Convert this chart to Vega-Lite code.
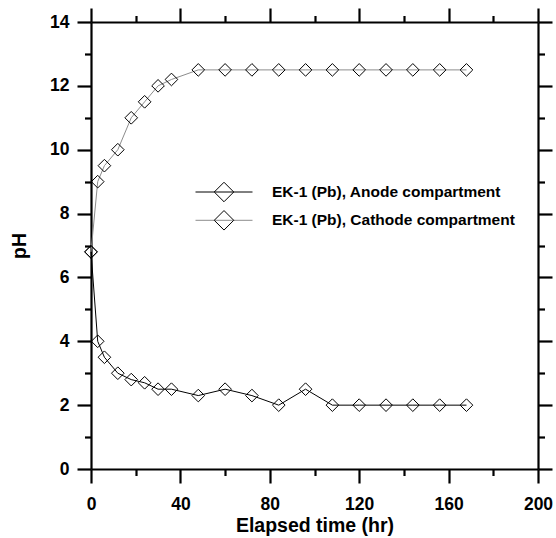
{
  "$schema": "https://vega.github.io/schema/vega-lite/v6.json",
  "width": 447,
  "height": 447,
  "autosize": {"type": "none"},
  "padding": {"left": 91, "top": 22, "right": 18, "bottom": 69},
  "config": {
    "font": "Liberation Sans",
    "view": {"stroke": null},
    "axis": {
      "grid": false,
      "domainColor": "black",
      "domainWidth": 2.2,
      "tickColor": "black",
      "tickWidth": 2.2,
      "labelColor": "black",
      "labelFont": "Liberation Sans",
      "labelFontWeight": "bold",
      "labelFontSize": 17.5,
      "labelFlush": false,
      "labelOverlap": false,
      "titleColor": "black",
      "titleFont": "Liberation Sans",
      "titleFontWeight": "bold",
      "titleFontSize": 19.5
    },
    "legend": {
      "padding": 0,
      "labelFont": "Liberation Sans",
      "labelFontWeight": "bold",
      "labelFontSize": 15.5,
      "labelColor": "black",
      "labelLimit": 0
    }
  },
  "data": {
    "values": [
      {"t": 0, "pH": 6.8, "series": "EK-1 (Pb), Anode compartment"},
      {"t": 3, "pH": 4.0, "series": "EK-1 (Pb), Anode compartment"},
      {"t": 6, "pH": 3.5, "series": "EK-1 (Pb), Anode compartment"},
      {"t": 12, "pH": 3.0, "series": "EK-1 (Pb), Anode compartment"},
      {"t": 18, "pH": 2.8, "series": "EK-1 (Pb), Anode compartment"},
      {"t": 24, "pH": 2.7, "series": "EK-1 (Pb), Anode compartment"},
      {"t": 30, "pH": 2.5, "series": "EK-1 (Pb), Anode compartment"},
      {"t": 36, "pH": 2.5, "series": "EK-1 (Pb), Anode compartment"},
      {"t": 48, "pH": 2.3, "series": "EK-1 (Pb), Anode compartment"},
      {"t": 60, "pH": 2.5, "series": "EK-1 (Pb), Anode compartment"},
      {"t": 72, "pH": 2.3, "series": "EK-1 (Pb), Anode compartment"},
      {"t": 84, "pH": 2.0, "series": "EK-1 (Pb), Anode compartment"},
      {"t": 96, "pH": 2.5, "series": "EK-1 (Pb), Anode compartment"},
      {"t": 108, "pH": 2.0, "series": "EK-1 (Pb), Anode compartment"},
      {"t": 120, "pH": 2.0, "series": "EK-1 (Pb), Anode compartment"},
      {"t": 132, "pH": 2.0, "series": "EK-1 (Pb), Anode compartment"},
      {"t": 144, "pH": 2.0, "series": "EK-1 (Pb), Anode compartment"},
      {"t": 156, "pH": 2.0, "series": "EK-1 (Pb), Anode compartment"},
      {"t": 168, "pH": 2.0, "series": "EK-1 (Pb), Anode compartment"},
      {"t": 0, "pH": 6.8, "series": "EK-1 (Pb), Cathode compartment"},
      {"t": 3, "pH": 9.0, "series": "EK-1 (Pb), Cathode compartment"},
      {"t": 6, "pH": 9.5, "series": "EK-1 (Pb), Cathode compartment"},
      {"t": 12, "pH": 10.0, "series": "EK-1 (Pb), Cathode compartment"},
      {"t": 18, "pH": 11.0, "series": "EK-1 (Pb), Cathode compartment"},
      {"t": 24, "pH": 11.5, "series": "EK-1 (Pb), Cathode compartment"},
      {"t": 30, "pH": 12.0, "series": "EK-1 (Pb), Cathode compartment"},
      {"t": 36, "pH": 12.2, "series": "EK-1 (Pb), Cathode compartment"},
      {"t": 48, "pH": 12.5, "series": "EK-1 (Pb), Cathode compartment"},
      {"t": 60, "pH": 12.5, "series": "EK-1 (Pb), Cathode compartment"},
      {"t": 72, "pH": 12.5, "series": "EK-1 (Pb), Cathode compartment"},
      {"t": 84, "pH": 12.5, "series": "EK-1 (Pb), Cathode compartment"},
      {"t": 96, "pH": 12.5, "series": "EK-1 (Pb), Cathode compartment"},
      {"t": 108, "pH": 12.5, "series": "EK-1 (Pb), Cathode compartment"},
      {"t": 120, "pH": 12.5, "series": "EK-1 (Pb), Cathode compartment"},
      {"t": 132, "pH": 12.5, "series": "EK-1 (Pb), Cathode compartment"},
      {"t": 144, "pH": 12.5, "series": "EK-1 (Pb), Cathode compartment"},
      {"t": 156, "pH": 12.5, "series": "EK-1 (Pb), Cathode compartment"},
      {"t": 168, "pH": 12.5, "series": "EK-1 (Pb), Cathode compartment"}
    ]
  },
  "layer": [
    {
      "mark": {"type": "line", "strokeWidth": 1},
      "encoding": {
        "x": {
          "field": "t", "type": "quantitative",
          "scale": {"domain": [0, 200], "nice": false},
          "axis": {
            "orient": "bottom",
            "values": [0, 20, 40, 60, 80, 100, 120, 140, 160, 180, 200],
            "labelExpr": "datum.value % 40 === 0 ? datum.label : ''",
            "tickSize": {"condition": {"test": "datum.value % 40 === 0", "value": 14}, "value": 6.5},
            "labelPadding": 12.5,
            "title": "Elapsed time (hr)",
            "titlePadding": 3
          }
        },
        "y": {
          "field": "pH", "type": "quantitative",
          "scale": {"domain": [0, 14], "nice": false},
          "axis": {
            "orient": "left",
            "values": [0, 1, 2, 3, 4, 5, 6, 7, 8, 9, 10, 11, 12, 13, 14],
            "labelExpr": "datum.value % 2 === 0 ? datum.label : ''",
            "tickSize": {"condition": {"test": "datum.value % 2 === 0", "value": 14}, "value": 6.5},
            "labelPadding": 8,
            "title": "pH",
            "titlePadding": 20
          }
        },
        "stroke": {
          "field": "series", "type": "nominal",
          "scale": {"range": ["black", "#8c8c8c"]},
          "legend": {
            "title": null,
            "orient": "none",
            "legendX": 104,
            "legendY": 159,
            "symbolType": "stroke",
            "symbolSize": 3249,
            "symbolStrokeWidth": 1,
            "labelOffset": 19,
            "labelLimit": 0,
            "clipHeight": 22,
            "rowPadding": 6.3
          }
        }
      }
    },
    {
      "mark": {"type": "point", "shape": "diamond", "filled": false, "color": "black", "strokeWidth": 1, "size": 160, "opacity": 1},
      "encoding": {
        "x": {"field": "t", "type": "quantitative", "scale": {"domain": [0, 200], "nice": false}, "axis": null},
        "y": {"field": "pH", "type": "quantitative", "scale": {"domain": [0, 14], "nice": false}, "axis": null},
        "shape": {
          "field": "series", "type": "nominal",
          "scale": {"domain": ["EK-1 (Pb), Anode compartment", "EK-1 (Pb), Cathode compartment"], "range": ["diamond", "diamond"]},
          "legend": {
            "title": null,
            "orient": "none",
            "legendX": 122.5,
            "legendY": 159,
            "symbolSize": 380,
            "symbolStrokeColor": "black",
            "symbolFillColor": "transparent",
            "symbolStrokeWidth": 1,
            "labelExpr": "''",
            "clipHeight": 22,
            "rowPadding": 6.3
          }
        }
      }
    },
    {
      "mark": {"type": "point", "opacity": 0},
      "encoding": {
        "x": {
          "field": "t", "type": "quantitative",
          "scale": {"domain": [0, 200], "nice": false},
          "axis": {
            "orient": "top",
            "values": [0, 20, 40, 60, 80, 100, 120, 140, 160, 180, 200],
            "labels": false,
            "tickSize": {"condition": {"test": "datum.value % 40 === 0", "value": 14}, "value": 6.5},
            "title": null
          }
        },
        "y": {
          "field": "pH", "type": "quantitative",
          "scale": {"domain": [0, 14], "nice": false},
          "axis": {
            "orient": "right",
            "values": [0, 1, 2, 3, 4, 5, 6, 7, 8, 9, 10, 11, 12, 13, 14],
            "labels": false,
            "tickSize": {"condition": {"test": "datum.value % 2 === 0", "value": 14}, "value": 6.5},
            "title": null
          }
        }
      }
    }
  ],
  "resolve": {"axis": {"x": "independent", "y": "independent"}}
}
